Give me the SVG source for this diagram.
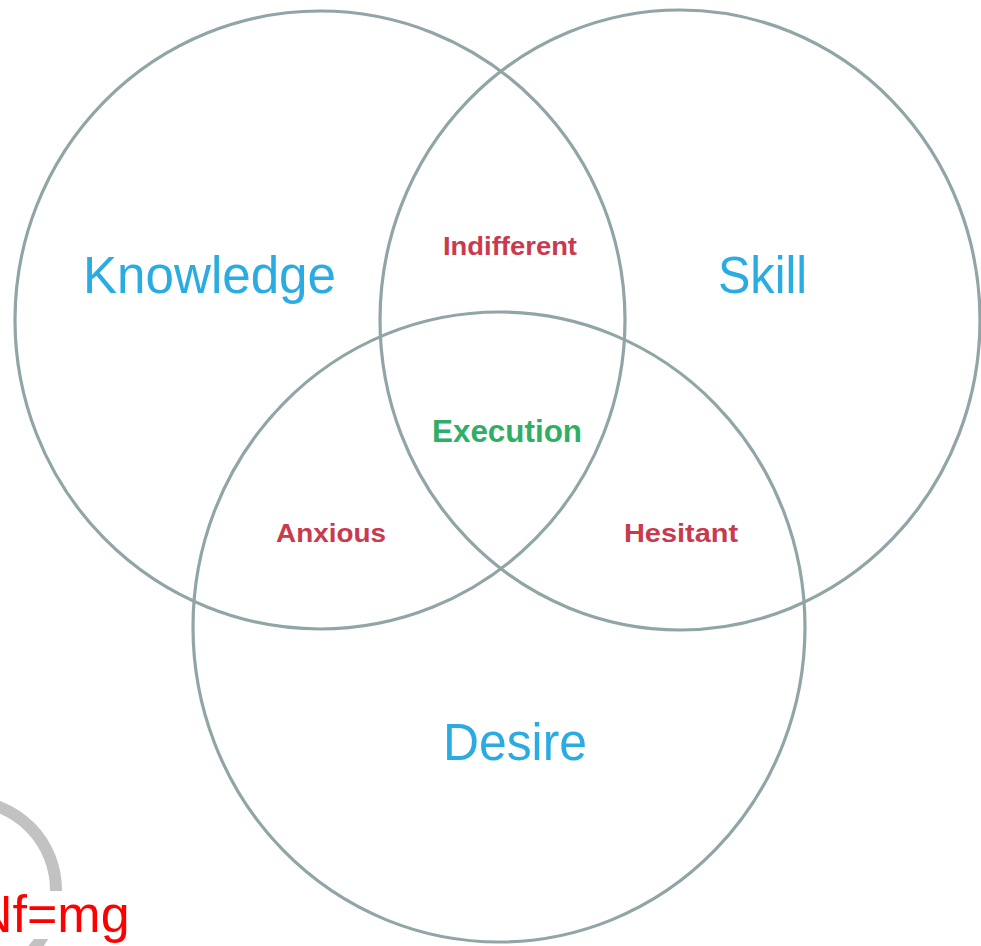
<svg xmlns="http://www.w3.org/2000/svg" width="981" height="946" viewBox="0 0 981 946">
<style>
.ring{fill:none;stroke:#91a5a7;stroke-width:3.2}
.big{font-family:"Liberation Sans",Arial,sans-serif;font-size:51px;fill:#2aace2}
.mid{font-family:"Liberation Sans",Arial,sans-serif;font-weight:bold;font-size:26px;fill:#c93a4e}
.core{font-family:"Liberation Sans",Arial,sans-serif;font-weight:bold;font-size:31px;fill:#2fae66}
</style>
<rect width="981" height="946" fill="#ffffff"/>
<g id="knowledge">
<ellipse class="ring" cx="320" cy="320" rx="305" ry="309"/>
<text class="big" x="83" y="293" textLength="253" lengthAdjust="spacingAndGlyphs">Knowledge</text>
</g>
<g id="skill">
<ellipse class="ring" cx="680" cy="320" rx="300" ry="310"/>
<text class="big" x="718" y="293" textLength="89" lengthAdjust="spacingAndGlyphs">Skill</text>
</g>
<g id="desire">
<ellipse class="ring" cx="499" cy="627" rx="306" ry="315"/>
<text class="big" x="443" y="760" textLength="144" lengthAdjust="spacingAndGlyphs" font-size="54">Desire</text>
</g>
<g id="indifferent">
<text class="mid" x="443" y="255" textLength="134" lengthAdjust="spacingAndGlyphs">Indifferent</text>
</g>
<g id="execution">
<text class="core" x="432" y="442" textLength="150" lengthAdjust="spacingAndGlyphs">Execution</text>
</g>
<g id="anxious">
<text class="mid" x="276" y="542" textLength="110" lengthAdjust="spacingAndGlyphs">Anxious</text>
</g>
<g id="hesitant">
<text class="mid" x="624" y="542" textLength="114" lengthAdjust="spacingAndGlyphs">Hesitant</text>
</g>
<g id="connectors"></g>
<g id="nfmg">
<circle cx="-33" cy="890" r="89" fill="none" stroke="#c2c2c2" stroke-width="12"/>
<rect x="0" y="891" width="132" height="48" fill="#ffffff"/>
<text x="-25" y="932" font-family="Liberation Sans,Arial,sans-serif" font-size="52" fill="#ff0000">Nf=mg</text>
</g>
</svg>
